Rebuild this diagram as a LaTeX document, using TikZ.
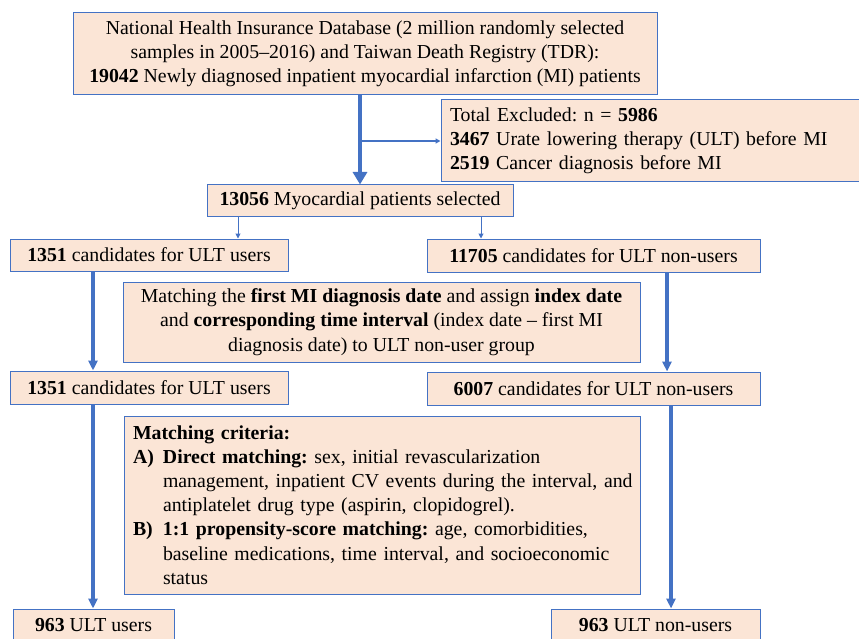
\documentclass[tikz,border=0pt]{standalone}
\usepackage{fontspec}
\setmainfont{Liberation Serif}
\usetikzlibrary{arrows.meta}
\definecolor{boxfill}{HTML}{FBE5D6}
\definecolor{boxline}{HTML}{4472C4}
\tikzset{
  box/.style={draw=boxline, line width=1pt, fill=boxfill, inner sep=0pt,
    font=\fontsize{19.8}{24.2}\selectfont},
  bigarrow/.style={boxline, line width=4.5pt, -{Triangle[width=14pt,length=12.5pt]}},
  midarrow/.style={boxline, line width=3.5pt, -{Triangle[width=9pt,length=10pt]}},
  thinarrow/.style={boxline, line width=1pt, -{Triangle[width=5pt,length=5pt]}},
}
\begin{document}
\frenchspacing
\begin{tikzpicture}[x=1pt,y=1pt]
  \useasboundingbox (0,0) rectangle (859,-639);
  % boxes
  \node[box, minimum width=584pt, minimum height=82pt, align=center] (nhird) at (365,-54)
    {National Health Insurance Database (2 million randomly selected\\
     samples in 2005--2016) and Taiwan Death Registry (TDR):\\
     \textbf{19042} Newly diagnosed inpatient myocardial infarction (MI) patients};
  \node[box, minimum width=421pt, minimum height=82pt, text width=403pt, inner xsep=9pt, align=left] (excl) at (651.5,-141)
    {Total Excluded: n = \textbf{5986}\\
     \textbf{3467} Urate lowering therapy (ULT) before MI\\
     \textbf{2519} Cancer diagnosis before MI};
  \node[box, minimum width=306pt, minimum height=32pt] (sel) at (360,-201)
    {\textbf{13056} Myocardial patients selected};
  \node[box, minimum width=278pt, minimum height=32pt] (users1) at (149,-255)
    {\textbf{1351} candidates for ULT users};
  \node[box, minimum width=333pt, minimum height=33pt] (nonusers1) at (593.5,-255.5)
    {\textbf{11705} candidates for ULT non-users};
  \node[box, minimum width=517pt, minimum height=80pt, align=center] (match) at (381.5,-322)
    {Matching the \textbf{first MI diagnosis date} and assign \textbf{index date}\\
     and \textbf{corresponding time interval} (index date -- first MI\\
     diagnosis date) to ULT non-user group};
  \node[box, minimum width=278pt, minimum height=33pt] (users2) at (149,-387.5)
    {\textbf{1351} candidates for ULT users};
  \node[box, minimum width=333pt, minimum height=33pt] (nonusers2) at (593.5,-388.5)
    {\textbf{6007} candidates for ULT non-users};
  \node[box, minimum width=516pt, minimum height=178pt, text width=498pt, inner xsep=9pt, align=left] (criteria) at (382,-505)
    {\parindent=0pt\textbf{Matching criteria:}\par
     \hangindent=30pt\hangafter=1\makebox[30pt][l]{\textbf{A)}}\mbox{\textbf{Direct matching:} sex, initial revascularization}\newline
     \mbox{management, inpatient CV events during the interval, and}\newline
     \mbox{antiplatelet drug type (aspirin, clopidogrel).}\par
     \hangindent=30pt\hangafter=1\makebox[30pt][l]{\textbf{B)}}\mbox{\textbf{1:1 propensity-score matching:} age, comorbidities,}\newline
     \mbox{baseline medications, time interval, and socioeconomic}\newline
     status\par};
  \node[box, minimum width=161pt, minimum height=32pt] (users3) at (93.5,-625)
    {\textbf{963} ULT users};
  \node[box, minimum width=209pt, minimum height=32pt] (nonusers3) at (655.5,-625)
    {\textbf{963} ULT non-users};
  % arrow columns
  \coordinate (lsplit) at (238,0);
  \coordinate (rsplit) at (481,0);
  \coordinate (lmain) at (93,0);
  \coordinate (rmaina) at (667,0);
  \coordinate (rmainb) at (671,0);
  \begin{scope}
    \draw[bigarrow] (nhird.south -| sel.north) -- (sel.north);
    \draw[boxline, line width=1.5pt, -{Triangle[width=5pt,length=5pt]}] (excl.west -| sel.north) -- (excl.west);
    \draw[thinarrow] (lsplit |- sel.south) -- (lsplit |- users1.north);
    \draw[thinarrow] (rsplit |- sel.south) -- (rsplit |- nonusers1.north);
    \draw[midarrow] (lmain |- users1.south) -- (lmain |- users2.north);
    \draw[midarrow] (lmain |- users2.south) -- (lmain |- users3.north);
    \draw[midarrow] (rmaina |- nonusers1.south) -- (rmaina |- nonusers2.north);
    \draw[midarrow] (rmainb |- nonusers2.south) -- (rmainb |- nonusers3.north);
  \end{scope}
\end{tikzpicture}
\end{document}
